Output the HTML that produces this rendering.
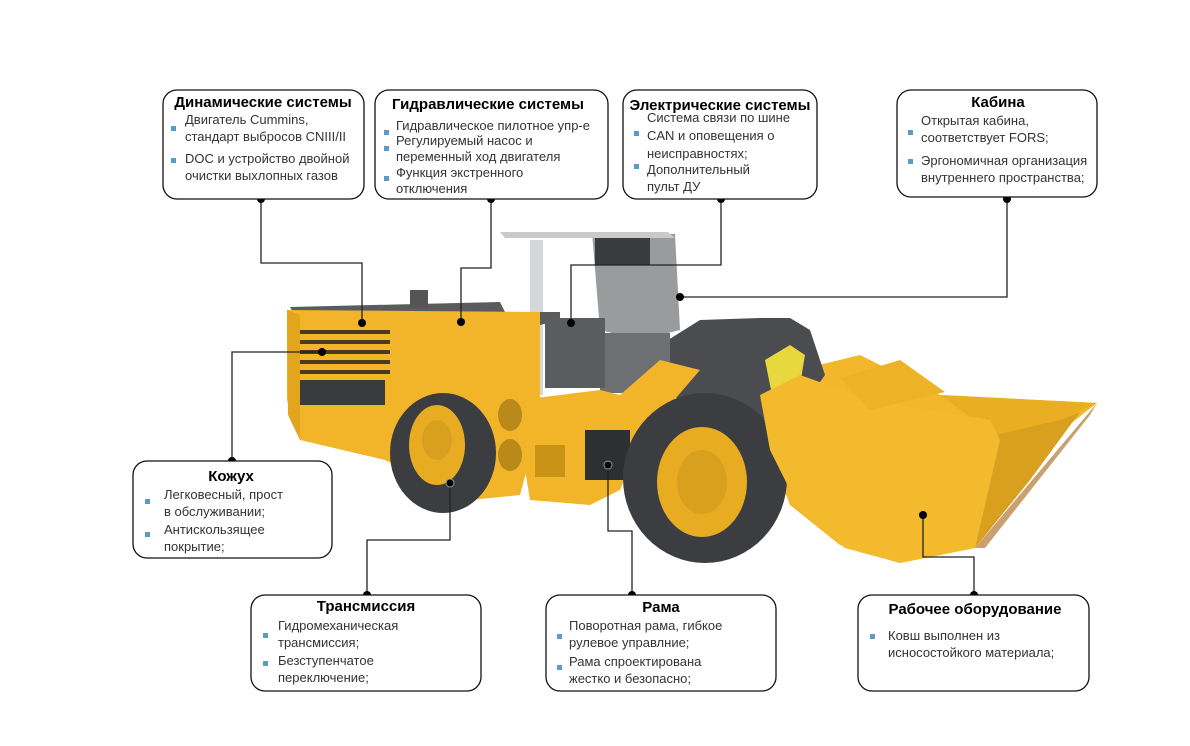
<!DOCTYPE html>
<html><head><meta charset="utf-8"><style>
html,body{margin:0;padding:0;background:#fff;}
svg{display:block;}
text{font-family:"Liberation Sans","DejaVu Sans",sans-serif;fill:#222;}
.t{font-weight:bold;font-size:15px;fill:#000;}
.b{font-size:13px;fill:#333;}
.bx{fill:#fff;stroke:#111;stroke-width:1.3;}
.ln{fill:none;stroke:#222;stroke-width:1.3;}
.sq{fill:#5b9bc8;}
</style></head><body>
<svg width="1190" height="746" viewBox="0 0 1190 746" xmlns="http://www.w3.org/2000/svg">
<rect width="1190" height="746" fill="#fff"/>
<g>
<polygon points="790,372 860,355 880,365 940,395 1097,403 1050,440 1000,500 975,548 900,563 840,545 790,505 765,440" fill="#f2b72a"/>
<polygon points="940,395 1097,403 1060,420 995,435" fill="#e9ae22"/>
<polygon points="995,435 1060,420 1080,412 1030,480 975,548 960,520" fill="#d9a020"/>
<polygon points="1097,403 975,548 985,548 1090,415" fill="#caa070"/>
<polygon points="660,345 700,320 760,318 790,318 810,330 825,375 800,410 760,420 700,410 660,390" fill="#4a4c4f"/>
<polygon points="765,360 790,345 805,355 800,385 772,395" fill="#e8d840"/>
<polygon points="592,232 675,234 680,330 640,340 600,330" fill="#9a9b9d"/>
<rect x="595" y="235" width="55" height="30" fill="#3a3b3d"/>
<rect x="600" y="333" width="70" height="60" fill="#6d6f72"/>
<polygon points="500,232 668,232 675,238 505,238" fill="#c9cacc"/>
<rect x="530" y="240" width="13" height="155" fill="#d6d7d9"/>
<polygon points="290,307 500,302 505,312 560,312 560,320 520,330 300,325" fill="#5a5b5d"/>
<rect x="410" y="290" width="18" height="18" fill="#555"/>
<polygon points="287,310 540,312 540,420 520,495 470,500 385,460 300,440 287,400" fill="#f2b52a"/>
<polygon points="287,310 300,315 300,440 288,415" fill="#e3a41e"/>
<g fill="#4a3a20">
<rect x="300" y="330" width="90" height="4"/><rect x="300" y="340" width="90" height="4"/><rect x="300" y="350" width="90" height="4"/><rect x="300" y="360" width="90" height="4"/><rect x="300" y="370" width="90" height="4"/>
</g>
<rect x="300" y="380" width="85" height="25" fill="#3a3b3d"/>
<rect x="545" y="318" width="60" height="70" fill="#5a5c60"/>
<polygon points="520,400 600,390 620,395 660,360 700,370 640,440 620,490 590,505 530,500 520,440" fill="#f2b52a"/>
<rect x="585" y="430" width="45" height="50" fill="#2e2f31"/>
<ellipse cx="510" cy="415" rx="12" ry="16" fill="#b98a1a"/>
<ellipse cx="510" cy="455" rx="12" ry="16" fill="#b98a1a"/>
<rect x="535" y="445" width="30" height="32" fill="#c99318"/>
<ellipse cx="443" cy="453" rx="53" ry="60" fill="#3c3d40"/>
<ellipse cx="437" cy="445" rx="28" ry="40" fill="#e8ac22"/>
<ellipse cx="437" cy="440" rx="15" ry="20" fill="#d9a020"/>
<ellipse cx="705" cy="478" rx="82" ry="85" fill="#3c3d40"/>
<ellipse cx="702" cy="482" rx="45" ry="55" fill="#e8ac22"/>
<ellipse cx="702" cy="482" rx="25" ry="32" fill="#d9a020"/>
<polygon points="760,395 800,375 870,400 990,420 1000,440 975,548 900,563 845,548 800,510 770,450" fill="#f4ba2e"/>
<polygon points="840,378 900,360 945,392 870,410" fill="#edb228"/>
</g>
<g class="ln">
<polyline points="261,199 261,263 362,263 362,323"/>
<polyline points="491,199 491,268 461,268 461,322"/>
<polyline points="721,199 721,265 571,265 571,323"/>
<polyline points="1007,199 1007,297 680,297"/>
<polyline points="232,461 232,352 322,352"/>
<polyline points="367,595 367,540 450,540 450,483"/>
<polyline points="632,595 632,531 608,531 608,465"/>
<polyline points="974,595 974,557 923,557 923,515"/>
</g>
<g fill="#000">
<circle cx="261" cy="199" r="4"/><circle cx="362" cy="323" r="4"/>
<circle cx="491" cy="199" r="4"/><circle cx="461" cy="322" r="4"/>
<circle cx="721" cy="199" r="4"/><circle cx="571" cy="323" r="4"/>
<circle cx="1007" cy="199" r="4"/><circle cx="680" cy="297" r="4"/>
<circle cx="232" cy="461" r="4"/><circle cx="322" cy="352" r="4"/>
<circle cx="367" cy="595" r="4"/><circle cx="450" cy="483" r="4" stroke="#999" stroke-width="1"/>
<circle cx="632" cy="595" r="4"/><circle cx="608" cy="465" r="4" stroke="#999" stroke-width="1"/>
<circle cx="974" cy="595" r="4"/><circle cx="923" cy="515" r="4"/>
</g>
<rect class="bx" x="163" y="90" width="201" height="109" rx="14"/>
<text class="t" x="263" y="107" text-anchor="middle">Динамические системы</text>
<rect class="sq" x="171" y="126" width="5" height="5"/><rect class="sq" x="171" y="158" width="5" height="5"/>
<text class="b" x="185" y="124">Двигатель Cummins,</text>
<text class="b" x="185" y="141">стандарт выбросов CNIII/II</text>
<text class="b" x="185" y="163">DOC и устройство двойной</text>
<text class="b" x="185" y="180">очистки выхлопных газов</text>

<rect class="bx" x="375" y="90" width="233" height="109" rx="14"/>
<text class="t" x="488" y="109" text-anchor="middle">Гидравлические системы</text>
<rect class="sq" x="384" y="130" width="5" height="5"/><rect class="sq" x="384" y="146" width="5" height="5"/><rect class="sq" x="384" y="176" width="5" height="5"/>
<text class="b" x="396" y="130">Гидравлическое пилотное упр-е</text>
<text class="b" x="396" y="145">Регулируемый насос и</text>
<text class="b" x="396" y="161">переменный ход двигателя</text>
<text class="b" x="396" y="177">Функция экстренного</text>
<text class="b" x="396" y="193">отключения</text>

<rect class="bx" x="623" y="90" width="194" height="109" rx="14"/>
<text class="t" x="720" y="110" text-anchor="middle">Электрические системы</text>
<rect class="sq" x="634" y="131" width="5" height="5"/><rect class="sq" x="634" y="164" width="5" height="5"/>
<text class="b" x="647" y="122">Система связи по шине</text>
<text class="b" x="647" y="140">CAN и оповещения о</text>
<text class="b" x="647" y="158">неисправностях;</text>
<text class="b" x="647" y="174">Дополнительный</text>
<text class="b" x="647" y="191">пульт ДУ</text>

<rect class="bx" x="897" y="90" width="200" height="107" rx="14"/>
<text class="t" x="998" y="107" text-anchor="middle">Кабина</text>
<rect class="sq" x="908" y="130" width="5" height="5"/><rect class="sq" x="908" y="159" width="5" height="5"/>
<text class="b" x="921" y="125">Открытая кабина,</text>
<text class="b" x="921" y="142">соответствует  FORS;</text>
<text class="b" x="921" y="165">Эргономичная организация</text>
<text class="b" x="921" y="182">внутреннего пространства;</text>

<rect class="bx" x="133" y="461" width="199" height="97" rx="14"/>
<text class="t" x="231" y="481" text-anchor="middle">Кожух</text>
<rect class="sq" x="145" y="499" width="5" height="5"/><rect class="sq" x="145" y="532" width="5" height="5"/>
<text class="b" x="164" y="499">Легковесный, прост</text>
<text class="b" x="164" y="516">в обслуживании;</text>
<text class="b" x="164" y="534">Антискользящее</text>
<text class="b" x="164" y="551">покрытие;</text>

<rect class="bx" x="251" y="595" width="230" height="96" rx="14"/>
<text class="t" x="366" y="611" text-anchor="middle">Трансмиссия</text>
<rect class="sq" x="263" y="633" width="5" height="5"/><rect class="sq" x="263" y="661" width="5" height="5"/>
<text class="b" x="278" y="630">Гидромеханическая</text>
<text class="b" x="278" y="647">трансмиссия;</text>
<text class="b" x="278" y="665">Безступенчатое</text>
<text class="b" x="278" y="682">переключение;</text>

<rect class="bx" x="546" y="595" width="230" height="96" rx="14"/>
<text class="t" x="661" y="612" text-anchor="middle">Рама</text>
<rect class="sq" x="557" y="634" width="5" height="5"/><rect class="sq" x="557" y="665" width="5" height="5"/>
<text class="b" x="569" y="630">Поворотная рама, гибкое</text>
<text class="b" x="569" y="647">рулевое управлние;</text>
<text class="b" x="569" y="666">Рама спроектирована</text>
<text class="b" x="569" y="683">жестко и безопасно;</text>

<rect class="bx" x="858" y="595" width="231" height="96" rx="14"/>
<text class="t" x="975" y="614" text-anchor="middle">Рабочее оборудование</text>
<rect class="sq" x="870" y="634" width="5" height="5"/>
<text class="b" x="888" y="640">Ковш выполнен из</text>
<text class="b" x="888" y="657">исносостойкого материала;</text>
</svg>
</body></html>
